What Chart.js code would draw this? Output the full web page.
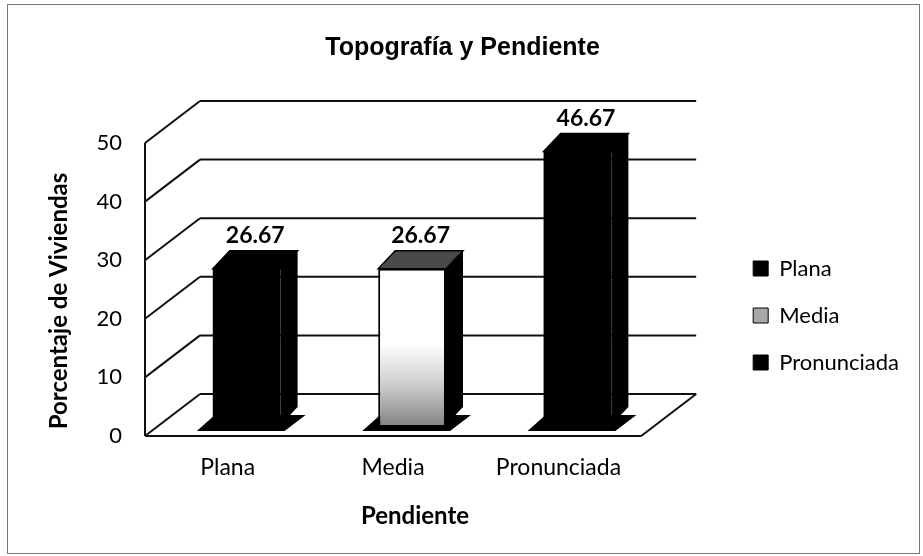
<!DOCTYPE html>
<html>
<head>
<meta charset="utf-8">
<script src="https://cdn.jsdelivr.net/npm/chart.js@4"></script>
<style>
  html, body { margin: 0; background: #fff; }
</style>
</head>
<body>
<canvas id="chart" width="923" height="556"></canvas>
<script>
// data
const categories = ['Plana', 'Media', 'Pronunciada'];
const values = [26.67, 26.67, 46.67];
const yTicks = [0, 10, 20, 30, 40, 50];
const chartTitle = 'Topografía y Pendiente';
const xTitle = 'Pendiente';
const yTitle = 'Porcentaje de Viviendas';

// fake 3d look
const DX = 55, DY = -42;           // depth of the walls
const SHIFT_X = 19, SHIFT_Y = -11; // bars sit in the middle of the floor
const SIDE = 17, TOP_H = 18;       // bar side and top faces
const FONT = "Lato, 'Open Sans', sans-serif";

const barColors = ['#000', mediaFill, '#000'];
const topColors = ['#000', '#4a4a4a', '#000'];
const legendColors = ['#000', '#a8a8a8', '#000'];

function mediaFill(ctx) {
  const a = ctx.chart.chartArea;
  if (!a) return '#fff';
  const g = ctx.chart.ctx.createLinearGradient(0, a.top, 0, a.bottom);
  g.addColorStop(0, '#fff');
  g.addColorStop(0.72, '#fff');
  g.addColorStop(0.86, '#cfcfcf');
  g.addColorStop(1, '#858585');
  return g;
}

function line(ctx, x1, y1, x2, y2) {
  ctx.beginPath();
  ctx.moveTo(x1, y1);
  ctx.lineTo(x2, y2);
  ctx.stroke();
}

function poly(ctx, pts, fill) {
  ctx.beginPath();
  ctx.moveTo(pts[0][0], pts[0][1]);
  pts.slice(1).forEach(p => ctx.lineTo(p[0], p[1]));
  ctx.closePath();
  ctx.fillStyle = fill;
  ctx.fill();
}

function eachBar(chart, fn) {
  chart.data.datasets.forEach((ds, i) => {
    chart.getDatasetMeta(i).data.forEach((bar, j) => {
      if (ds.data[j] == null) return;
      const p = bar.getProps(['x', 'y', 'base', 'width'], true);
      fn(p, i, j);
    });
  });
}

const wall3d = {
  id: 'wall3d',
  beforeDraw(chart) {
    const ctx = chart.ctx;
    ctx.save();
    ctx.fillStyle = '#fff';
    ctx.fillRect(0, 0, chart.width, chart.height);
    ctx.strokeStyle = '#777';
    ctx.lineWidth = 1;
    ctx.strokeRect(7.5, 4.5, 912, 549);
    ctx.restore();
  },
  beforeDatasetsDraw(chart) {
    const { ctx, chartArea: a, scales: { y } } = chart;
    ctx.save();
    ctx.strokeStyle = '#111';
    ctx.lineWidth = 2;
    yTicks.forEach(t => {
      const py = y.getPixelForValue(t);
      line(ctx, a.left, py, a.left + DX, py + DY);
      line(ctx, a.left + DX, py + DY, a.right + DX, py + DY);
    });
    line(ctx, a.left, y.getPixelForValue(yTicks[yTicks.length - 1]), a.left, a.bottom);
    line(ctx, a.left, a.bottom, a.right, a.bottom);
    line(ctx, a.right, a.bottom, a.right + DX, a.bottom + DY);
    ctx.restore();

    ctx.save();
    ctx.translate(SHIFT_X, SHIFT_Y);
    // base plate under each bar
    eachBar(chart, (p) => {
      const L = p.x - p.width / 2, R = p.x + p.width / 2, B = p.base;
      poly(ctx, [[L - 16, B + 6], [R + 4, B + 6], [R + SIDE + 8, B - 10], [L + 2, B - 10]], '#000');
    });
  },
  afterDatasetsDraw(chart) {
    const ctx = chart.ctx;
    eachBar(chart, (p, i, j) => {
      const L = p.x - p.width / 2, R = p.x + p.width / 2;
      poly(ctx, [[R, p.y], [R + SIDE, p.y - TOP_H], [R + SIDE, p.base - TOP_H], [R, p.base]], '#000');
      poly(ctx, [[L, p.y], [L + SIDE, p.y - TOP_H], [R + SIDE, p.y - TOP_H], [R, p.y]], topColors[i]);
      ctx.strokeStyle = '#000';
      ctx.lineWidth = 1.5;
      ctx.stroke();
      ctx.fillStyle = '#000';
      ctx.font = 'bold 23px ' + FONT;
      ctx.textAlign = 'center';
      ctx.textBaseline = 'middle';
      ctx.fillText(values[j].toFixed(2), p.x + SIDE / 2, p.y - TOP_H - 15);
    });
    ctx.restore();
  },
  afterDraw(chart) {
    // axis titles, placed where Excel put them
    const ctx = chart.ctx;
    ctx.save();
    ctx.fillStyle = '#000';
    ctx.font = 'bold 24px ' + FONT;
    ctx.textAlign = 'center';
    ctx.textBaseline = 'middle';
    ctx.fillText(xTitle, 415, 516);
    ctx.translate(59, 301);
    ctx.rotate(-Math.PI / 2);
    ctx.fillText(yTitle, 0, 0);
    ctx.restore();
  }
};

Chart.defaults.color = '#000';
Chart.defaults.font.family = FONT;

new Chart(document.getElementById('chart'), {
  type: 'bar',
  data: {
    labels: categories,
    datasets: categories.map((name, i) => ({
      label: name,
      data: values.map((v, j) => (j === i ? v : null)),
      backgroundColor: barColors[i],
      borderColor: '#000',
      borderWidth: i === 1 ? 2 : 0,
      clip: false
    }))
  },
  options: {
    responsive: false,
    animation: false,
    layout: { padding: { left: 16, right: 14, top: 0, bottom: 0 } },
    datasets: { bar: { grouped: false, barPercentage: 0.41, categoryPercentage: 1 } },
    plugins: {
      title: {
        display: true,
        text: chartTitle,
        font: { family: "'Liberation Sans Narrow', 'Liberation Sans', Arial, sans-serif", size: 25, weight: 'bold' },
        padding: { top: 33, bottom: 80 }
      },
      legend: {
        position: 'right',
        fullSize: false,
        maxWidth: 300,
        title: { display: true, text: '', font: { size: 20 }, padding: { top: 28, bottom: 0 } },
        labels: {
          boxWidth: 15,
          boxHeight: 15,
          padding: 25,
          font: { size: 22 },
          generateLabels(chart) {
            const items = Chart.defaults.plugins.legend.labels.generateLabels(chart);
            items.forEach((it, i) => {
              it.fillStyle = legendColors[i];
              it.strokeStyle = '#000';
              it.lineWidth = 1;
            });
            return items;
          }
        }
      },
      tooltip: { enabled: false }
    },
    scales: {
      x: {
        grid: { display: false, drawTicks: false },
        border: { display: false },
        ticks: { padding: 18, font: { size: 23 } },
        afterFit(s) { s.height = 120; }
      },
      y: {
        min: 0,
        max: 50,
        grid: { display: false, drawTicks: false },
        border: { display: false },
        ticks: { stepSize: 10, padding: 23, font: { size: 22 } },
        afterFit(s) { s.width = 129; }
      },
      yR: {
        type: 'linear',
        position: 'right',
        grid: { display: false, drawTicks: false },
        border: { display: false },
        ticks: { display: false },
        afterFit(s) { s.width = 87; }
      }
    }
  },
  plugins: [wall3d]
});
</script>
</body>
</html>
